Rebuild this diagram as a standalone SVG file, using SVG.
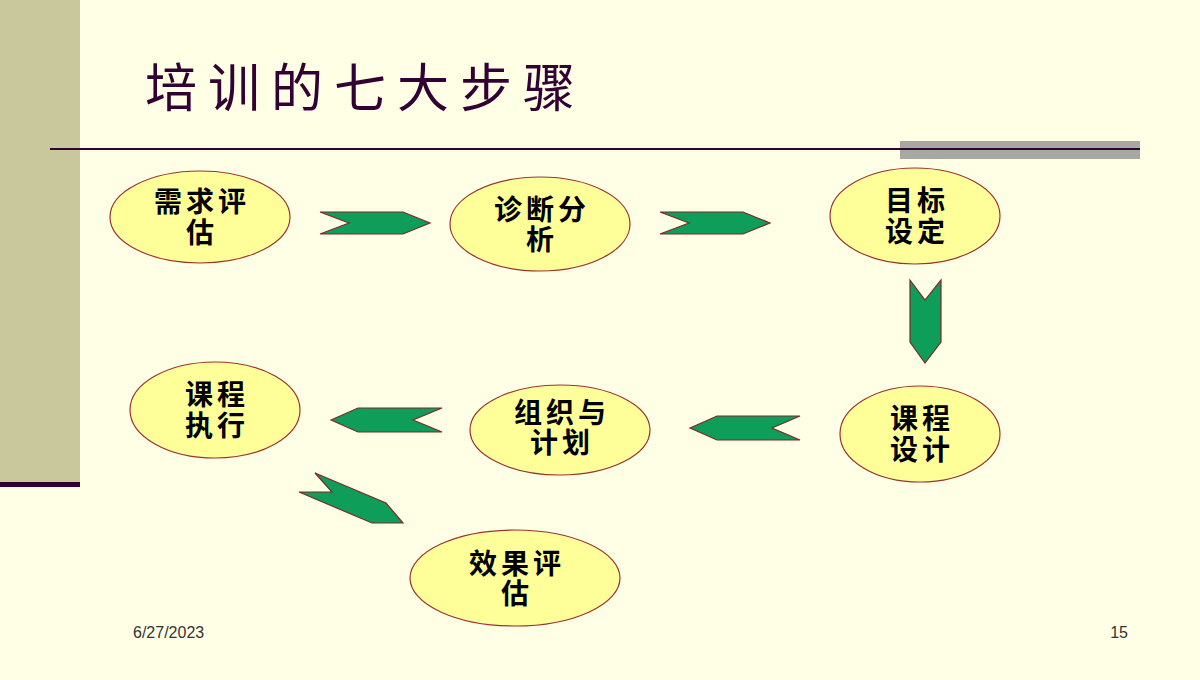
<svg xmlns="http://www.w3.org/2000/svg" width="1200" height="680" viewBox="0 0 1200 680">
<style>
.node ellipse{fill:#FFFF99;stroke:#993333;stroke-width:1.2}
.node text{font-family:"Liberation Sans","Noto Sans CJK SC",sans-serif;font-weight:bold;font-size:28px;letter-spacing:4px;fill:#000;text-anchor:middle}
.arr{fill:#0F9D5A;stroke:#7A2A2A;stroke-width:1.2;stroke-linejoin:miter}
.foot{font-family:"Liberation Sans",sans-serif;font-size:16px;fill:#333}
</style>
<rect width="1200" height="680" fill="#FFFFE5"/>
<rect x="0" y="0" width="80" height="483" fill="#C9C89C"/>
<rect x="0" y="482" width="80" height="5" fill="#330033"/>
<rect x="900" y="141" width="240" height="18" fill="#A8A8A2"/>
<line x1="50" y1="149" x2="1140" y2="149" stroke="#330033" stroke-width="2"/>
<text x="145" y="107" font-family="'Noto Sans CJK SC',sans-serif" font-size="52" letter-spacing="11" fill="#330033">培训的七大步骤</text>

<g id="connectors">
<polygon class="arr" points="320,212 403,212 430,223 403,234 320,234 349,223"/>
<polygon class="arr" points="660,212 743,212 770,223 743,234 660,234 689,223"/>
<polygon class="arr" points="910,280 925,300 941,280 941,342 925,363 910,342"/>
<polygon class="arr" points="331,420 358,408 442,408 413,420 442,432 358,432"/>
<polygon class="arr" points="690,428 717,416 800,416 772,428 800,440 717,440"/>
<polygon class="arr" points="299,492 332,492 315,473 386,503 403,523 372,523"/>
</g>

<g id="n1" class="node"><ellipse cx="200" cy="217" rx="90" ry="46"/><text x="202" y="212">需求评</text><text x="202" y="243">估</text></g>
<g id="n2" class="node"><ellipse cx="540" cy="224" rx="90" ry="47"/><text x="542" y="220">诊断分</text><text x="542" y="250">析</text></g>
<g id="n3" class="node"><ellipse cx="915" cy="216" rx="85" ry="48"/><text x="917" y="211">目标</text><text x="917" y="242">设定</text></g>
<g id="n4" class="node"><ellipse cx="920" cy="434" rx="80" ry="48"/><text x="922" y="429">课程</text><text x="922" y="460">设计</text></g>
<g id="n5" class="node"><ellipse cx="560" cy="430" rx="90" ry="45"/><text x="562" y="423">组织与</text><text x="562" y="453">计划</text></g>
<g id="n6" class="node"><ellipse cx="215" cy="410" rx="85" ry="48"/><text x="217" y="405">课程</text><text x="217" y="436">执行</text></g>
<g id="n7" class="node"><ellipse cx="515" cy="578" rx="105" ry="48"/><text x="517" y="574">效果评</text><text x="517" y="604">估</text></g>

<text class="foot" x="133" y="638">6/27/2023</text>
<text class="foot" x="1128" y="638" text-anchor="end">15</text>
</svg>
